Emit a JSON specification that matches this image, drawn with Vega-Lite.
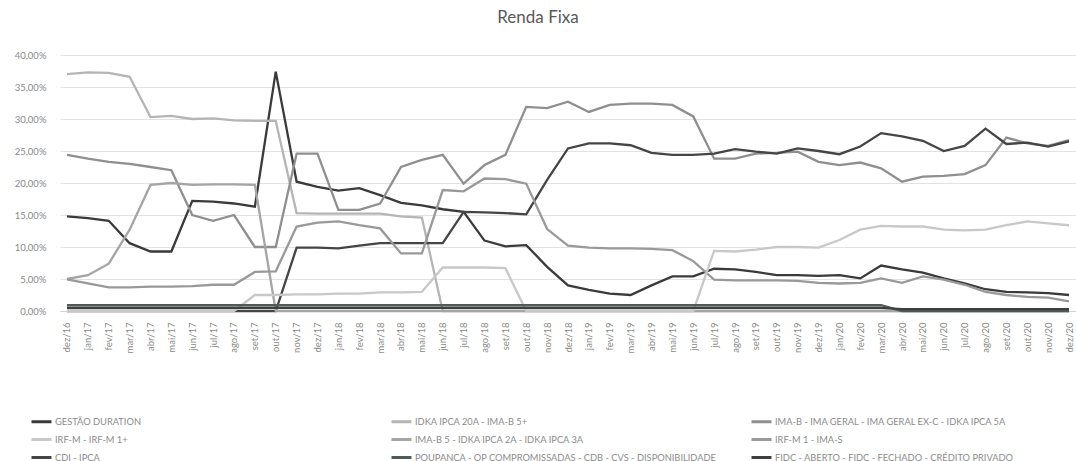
{
  "$schema": "https://vega.github.io/schema/vega-lite/v6.json",
  "width": 1016,
  "height": 256,
  "autosize": {"type": "none"},
  "padding": {"left": 60, "top": 55, "right": 0, "bottom": 150},
  "background": "white",
  "title": {"text": "Renda Fixa", "fontSize": 17, "font": "Lato", "fontWeight": "normal", "color": "#595959", "anchor": "middle", "frame": "group", "offset": 23, "dx": -30},
  "datasets": {
    "names": [
      {"s": "A", "name": "GESTÃO DURATION"},
      {"s": "B", "name": "IDKA IPCA 20A - IMA-B 5+"},
      {"s": "C", "name": "IMA-B - IMA GERAL - IMA GERAL EX-C - IDKA IPCA 5A"},
      {"s": "G", "name": "IRF-M - IRF-M 1+"},
      {"s": "E", "name": "IMA-B 5 - IDKA IPCA 2A - IDKA IPCA 3A"},
      {"s": "F", "name": "IRF-M 1 - IMA-S"},
      {"s": "D", "name": "CDI - IPCA"},
      {"s": "P", "name": "POUPANÇA - OP COMPROMISSADAS - CDB - CVS - DISPONIBILIDADE"},
      {"s": "H", "name": "FIDC - ABERTO - FIDC - FECHADO - CRÉDITO PRIVADO"}
    ]
  },
  "data": {"values": [
{"m":"dez/16","s":"A","v":14.8},{"m":"jan/17","s":"A","v":14.5},{"m":"fev/17","s":"A","v":14.1},{"m":"mar/17","s":"A","v":10.6},{"m":"abr/17","s":"A","v":9.3},{"m":"mai/17","s":"A","v":9.3},{"m":"jun/17","s":"A","v":17.2},{"m":"jul/17","s":"A","v":17.1},{"m":"ago/17","s":"A","v":16.8},{"m":"set/17","s":"A","v":16.3},{"m":"out/17","s":"A","v":37.4},{"m":"nov/17","s":"A","v":20.2},{"m":"dez/17","s":"A","v":19.4},{"m":"jan/18","s":"A","v":18.8},{"m":"fev/18","s":"A","v":19.2},{"m":"mar/18","s":"A","v":18.1},{"m":"abr/18","s":"A","v":16.9},{"m":"mai/18","s":"A","v":16.5},{"m":"jun/18","s":"A","v":15.9},{"m":"jul/18","s":"A","v":15.5},{"m":"ago/18","s":"A","v":11.0},{"m":"set/18","s":"A","v":10.1},{"m":"out/18","s":"A","v":10.3},{"m":"nov/18","s":"A","v":6.9},{"m":"dez/18","s":"A","v":4.0},{"m":"jan/19","s":"A","v":3.3},{"m":"fev/19","s":"A","v":2.7},{"m":"mar/19","s":"A","v":2.5},{"m":"abr/19","s":"A","v":4.0},{"m":"mai/19","s":"A","v":5.4},{"m":"jun/19","s":"A","v":5.4},{"m":"jul/19","s":"A","v":6.6},{"m":"ago/19","s":"A","v":6.5},{"m":"set/19","s":"A","v":6.1},{"m":"out/19","s":"A","v":5.6},{"m":"nov/19","s":"A","v":5.6},{"m":"dez/19","s":"A","v":5.5},{"m":"jan/20","s":"A","v":5.6},{"m":"fev/20","s":"A","v":5.1},{"m":"mar/20","s":"A","v":7.1},{"m":"abr/20","s":"A","v":6.5},{"m":"mai/20","s":"A","v":6.0},{"m":"jun/20","s":"A","v":5.1},{"m":"jul/20","s":"A","v":4.3},{"m":"ago/20","s":"A","v":3.4},{"m":"set/20","s":"A","v":3.0},{"m":"out/20","s":"A","v":2.9},{"m":"nov/20","s":"A","v":2.8},{"m":"dez/20","s":"A","v":2.5},
{"m":"dez/16","s":"B","v":37.0},{"m":"jan/17","s":"B","v":37.3},{"m":"fev/17","s":"B","v":37.2},{"m":"mar/17","s":"B","v":36.6},{"m":"abr/17","s":"B","v":30.3},{"m":"mai/17","s":"B","v":30.5},{"m":"jun/17","s":"B","v":30.0},{"m":"jul/17","s":"B","v":30.1},{"m":"ago/17","s":"B","v":29.8},{"m":"set/17","s":"B","v":29.7},{"m":"out/17","s":"B","v":29.7},{"m":"nov/17","s":"B","v":15.3},{"m":"dez/17","s":"B","v":15.2},{"m":"jan/18","s":"B","v":15.2},{"m":"fev/18","s":"B","v":15.2},{"m":"mar/18","s":"B","v":15.2},{"m":"abr/18","s":"B","v":14.8},{"m":"mai/18","s":"B","v":14.6},{"m":"jun/18","s":"B","v":0},{"m":"jul/18","s":"B","v":0},{"m":"ago/18","s":"B","v":0},{"m":"set/18","s":"B","v":0},{"m":"out/18","s":"B","v":0},{"m":"nov/18","s":"B","v":0},{"m":"dez/18","s":"B","v":0},{"m":"jan/19","s":"B","v":0},{"m":"fev/19","s":"B","v":0},{"m":"mar/19","s":"B","v":0},{"m":"abr/19","s":"B","v":0},{"m":"mai/19","s":"B","v":0},{"m":"jun/19","s":"B","v":0},{"m":"jul/19","s":"B","v":0},{"m":"ago/19","s":"B","v":0},{"m":"set/19","s":"B","v":0},{"m":"out/19","s":"B","v":0},{"m":"nov/19","s":"B","v":0},{"m":"dez/19","s":"B","v":0},{"m":"jan/20","s":"B","v":0},{"m":"fev/20","s":"B","v":0},{"m":"mar/20","s":"B","v":0},{"m":"abr/20","s":"B","v":0},{"m":"mai/20","s":"B","v":0},{"m":"jun/20","s":"B","v":0},{"m":"jul/20","s":"B","v":0},{"m":"ago/20","s":"B","v":0},{"m":"set/20","s":"B","v":0},{"m":"out/20","s":"B","v":0},{"m":"nov/20","s":"B","v":0},{"m":"dez/20","s":"B","v":0},
{"m":"dez/16","s":"C","v":24.4},{"m":"jan/17","s":"C","v":23.8},{"m":"fev/17","s":"C","v":23.3},{"m":"mar/17","s":"C","v":23.0},{"m":"abr/17","s":"C","v":22.5},{"m":"mai/17","s":"C","v":22.0},{"m":"jun/17","s":"C","v":15.0},{"m":"jul/17","s":"C","v":14.1},{"m":"ago/17","s":"C","v":15.0},{"m":"set/17","s":"C","v":10.0},{"m":"out/17","s":"C","v":10.0},{"m":"nov/17","s":"C","v":24.6},{"m":"dez/17","s":"C","v":24.6},{"m":"jan/18","s":"C","v":15.8},{"m":"fev/18","s":"C","v":15.8},{"m":"mar/18","s":"C","v":16.8},{"m":"abr/18","s":"C","v":22.5},{"m":"mai/18","s":"C","v":23.6},{"m":"jun/18","s":"C","v":24.4},{"m":"jul/18","s":"C","v":19.9},{"m":"ago/18","s":"C","v":22.8},{"m":"set/18","s":"C","v":24.4},{"m":"out/18","s":"C","v":31.9},{"m":"nov/18","s":"C","v":31.7},{"m":"dez/18","s":"C","v":32.7},{"m":"jan/19","s":"C","v":31.1},{"m":"fev/19","s":"C","v":32.2},{"m":"mar/19","s":"C","v":32.4},{"m":"abr/19","s":"C","v":32.4},{"m":"mai/19","s":"C","v":32.2},{"m":"jun/19","s":"C","v":30.4},{"m":"jul/19","s":"C","v":23.8},{"m":"ago/19","s":"C","v":23.8},{"m":"set/19","s":"C","v":24.6},{"m":"out/19","s":"C","v":24.7},{"m":"nov/19","s":"C","v":24.9},{"m":"dez/19","s":"C","v":23.3},{"m":"jan/20","s":"C","v":22.8},{"m":"fev/20","s":"C","v":23.2},{"m":"mar/20","s":"C","v":22.3},{"m":"abr/20","s":"C","v":20.2},{"m":"mai/20","s":"C","v":21.0},{"m":"jun/20","s":"C","v":21.1},{"m":"jul/20","s":"C","v":21.4},{"m":"ago/20","s":"C","v":22.8},{"m":"set/20","s":"C","v":27.1},{"m":"out/20","s":"C","v":26.2},{"m":"nov/20","s":"C","v":25.8},{"m":"dez/20","s":"C","v":26.7},
{"m":"dez/16","s":"D","v":0},{"m":"jan/17","s":"D","v":0},{"m":"fev/17","s":"D","v":0},{"m":"mar/17","s":"D","v":0},{"m":"abr/17","s":"D","v":0},{"m":"mai/17","s":"D","v":0},{"m":"jun/17","s":"D","v":0},{"m":"jul/17","s":"D","v":0},{"m":"ago/17","s":"D","v":0},{"m":"set/17","s":"D","v":0},{"m":"out/17","s":"D","v":0},{"m":"nov/17","s":"D","v":9.9},{"m":"dez/17","s":"D","v":9.9},{"m":"jan/18","s":"D","v":9.8},{"m":"fev/18","s":"D","v":10.2},{"m":"mar/18","s":"D","v":10.6},{"m":"abr/18","s":"D","v":10.6},{"m":"mai/18","s":"D","v":10.6},{"m":"jun/18","s":"D","v":10.6},{"m":"jul/18","s":"D","v":15.5},{"m":"ago/18","s":"D","v":15.4},{"m":"set/18","s":"D","v":15.3},{"m":"out/18","s":"D","v":15.1},{"m":"nov/18","s":"D","v":20.5},{"m":"dez/18","s":"D","v":25.4},{"m":"jan/19","s":"D","v":26.2},{"m":"fev/19","s":"D","v":26.2},{"m":"mar/19","s":"D","v":25.9},{"m":"abr/19","s":"D","v":24.7},{"m":"mai/19","s":"D","v":24.4},{"m":"jun/19","s":"D","v":24.4},{"m":"jul/19","s":"D","v":24.6},{"m":"ago/19","s":"D","v":25.3},{"m":"set/19","s":"D","v":24.9},{"m":"out/19","s":"D","v":24.6},{"m":"nov/19","s":"D","v":25.4},{"m":"dez/19","s":"D","v":25.0},{"m":"jan/20","s":"D","v":24.5},{"m":"fev/20","s":"D","v":25.7},{"m":"mar/20","s":"D","v":27.8},{"m":"abr/20","s":"D","v":27.3},{"m":"mai/20","s":"D","v":26.6},{"m":"jun/20","s":"D","v":25.0},{"m":"jul/20","s":"D","v":25.8},{"m":"ago/20","s":"D","v":28.5},{"m":"set/20","s":"D","v":26.1},{"m":"out/20","s":"D","v":26.3},{"m":"nov/20","s":"D","v":25.7},{"m":"dez/20","s":"D","v":26.5},
{"m":"dez/16","s":"E","v":5.0},{"m":"jan/17","s":"E","v":5.6},{"m":"fev/17","s":"E","v":7.4},{"m":"mar/17","s":"E","v":12.7},{"m":"abr/17","s":"E","v":19.7},{"m":"mai/17","s":"E","v":20.0},{"m":"jun/17","s":"E","v":19.7},{"m":"jul/17","s":"E","v":19.8},{"m":"ago/17","s":"E","v":19.8},{"m":"set/17","s":"E","v":19.7},{"m":"out/17","s":"E","v":0},{"m":"nov/17","s":"E","v":0},{"m":"dez/17","s":"E","v":0},{"m":"jan/18","s":"E","v":0},{"m":"fev/18","s":"E","v":0},{"m":"mar/18","s":"E","v":0},{"m":"abr/18","s":"E","v":0},{"m":"mai/18","s":"E","v":0},{"m":"jun/18","s":"E","v":0},{"m":"jul/18","s":"E","v":0},{"m":"ago/18","s":"E","v":0},{"m":"set/18","s":"E","v":0},{"m":"out/18","s":"E","v":0},{"m":"nov/18","s":"E","v":0},{"m":"dez/18","s":"E","v":0},{"m":"jan/19","s":"E","v":0},{"m":"fev/19","s":"E","v":0},{"m":"mar/19","s":"E","v":0},{"m":"abr/19","s":"E","v":0},{"m":"mai/19","s":"E","v":0},{"m":"jun/19","s":"E","v":0},{"m":"jul/19","s":"E","v":0},{"m":"ago/19","s":"E","v":0},{"m":"set/19","s":"E","v":0},{"m":"out/19","s":"E","v":0},{"m":"nov/19","s":"E","v":0},{"m":"dez/19","s":"E","v":0},{"m":"jan/20","s":"E","v":0},{"m":"fev/20","s":"E","v":0},{"m":"mar/20","s":"E","v":0},{"m":"abr/20","s":"E","v":0},{"m":"mai/20","s":"E","v":0},{"m":"jun/20","s":"E","v":0},{"m":"jul/20","s":"E","v":0},{"m":"ago/20","s":"E","v":0},{"m":"set/20","s":"E","v":0},{"m":"out/20","s":"E","v":0},{"m":"nov/20","s":"E","v":0},{"m":"dez/20","s":"E","v":0},
{"m":"dez/16","s":"F","v":4.95},{"m":"jan/17","s":"F","v":4.3},{"m":"fev/17","s":"F","v":3.7},{"m":"mar/17","s":"F","v":3.7},{"m":"abr/17","s":"F","v":3.8},{"m":"mai/17","s":"F","v":3.8},{"m":"jun/17","s":"F","v":3.9},{"m":"jul/17","s":"F","v":4.1},{"m":"ago/17","s":"F","v":4.1},{"m":"set/17","s":"F","v":6.1},{"m":"out/17","s":"F","v":6.2},{"m":"nov/17","s":"F","v":13.2},{"m":"dez/17","s":"F","v":13.8},{"m":"jan/18","s":"F","v":14.0},{"m":"fev/18","s":"F","v":13.4},{"m":"mar/18","s":"F","v":12.9},{"m":"abr/18","s":"F","v":9.0},{"m":"mai/18","s":"F","v":9.0},{"m":"jun/18","s":"F","v":18.9},{"m":"jul/18","s":"F","v":18.7},{"m":"ago/18","s":"F","v":20.7},{"m":"set/18","s":"F","v":20.6},{"m":"out/18","s":"F","v":19.9},{"m":"nov/18","s":"F","v":12.8},{"m":"dez/18","s":"F","v":10.2},{"m":"jan/19","s":"F","v":9.9},{"m":"fev/19","s":"F","v":9.8},{"m":"mar/19","s":"F","v":9.8},{"m":"abr/19","s":"F","v":9.7},{"m":"mai/19","s":"F","v":9.5},{"m":"jun/19","s":"F","v":7.8},{"m":"jul/19","s":"F","v":4.9},{"m":"ago/19","s":"F","v":4.8},{"m":"set/19","s":"F","v":4.8},{"m":"out/19","s":"F","v":4.8},{"m":"nov/19","s":"F","v":4.7},{"m":"dez/19","s":"F","v":4.4},{"m":"jan/20","s":"F","v":4.3},{"m":"fev/20","s":"F","v":4.4},{"m":"mar/20","s":"F","v":5.1},{"m":"abr/20","s":"F","v":4.4},{"m":"mai/20","s":"F","v":5.4},{"m":"jun/20","s":"F","v":4.9},{"m":"jul/20","s":"F","v":4.1},{"m":"ago/20","s":"F","v":3.0},{"m":"set/20","s":"F","v":2.5},{"m":"out/20","s":"F","v":2.2},{"m":"nov/20","s":"F","v":2.1},{"m":"dez/20","s":"F","v":1.5},
{"m":"dez/16","s":"G","v":0},{"m":"jan/17","s":"G","v":0},{"m":"fev/17","s":"G","v":0},{"m":"mar/17","s":"G","v":0},{"m":"abr/17","s":"G","v":0},{"m":"mai/17","s":"G","v":0},{"m":"jun/17","s":"G","v":0},{"m":"jul/17","s":"G","v":0},{"m":"ago/17","s":"G","v":0},{"m":"set/17","s":"G","v":2.5},{"m":"out/17","s":"G","v":2.5},{"m":"nov/17","s":"G","v":2.6},{"m":"dez/17","s":"G","v":2.6},{"m":"jan/18","s":"G","v":2.7},{"m":"fev/18","s":"G","v":2.7},{"m":"mar/18","s":"G","v":2.9},{"m":"abr/18","s":"G","v":2.9},{"m":"mai/18","s":"G","v":3.0},{"m":"jun/18","s":"G","v":6.8},{"m":"jul/18","s":"G","v":6.8},{"m":"ago/18","s":"G","v":6.8},{"m":"set/18","s":"G","v":6.7},{"m":"out/18","s":"G","v":0},{"m":"nov/18","s":"G","v":0},{"m":"dez/18","s":"G","v":0},{"m":"jan/19","s":"G","v":0},{"m":"fev/19","s":"G","v":0},{"m":"mar/19","s":"G","v":0},{"m":"abr/19","s":"G","v":0},{"m":"mai/19","s":"G","v":0},{"m":"jun/19","s":"G","v":0},{"m":"jul/19","s":"G","v":9.4},{"m":"ago/19","s":"G","v":9.3},{"m":"set/19","s":"G","v":9.6},{"m":"out/19","s":"G","v":10.0},{"m":"nov/19","s":"G","v":10.0},{"m":"dez/19","s":"G","v":9.9},{"m":"jan/20","s":"G","v":11.1},{"m":"fev/20","s":"G","v":12.7},{"m":"mar/20","s":"G","v":13.3},{"m":"abr/20","s":"G","v":13.2},{"m":"mai/20","s":"G","v":13.2},{"m":"jun/20","s":"G","v":12.7},{"m":"jul/20","s":"G","v":12.6},{"m":"ago/20","s":"G","v":12.7},{"m":"set/20","s":"G","v":13.4},{"m":"out/20","s":"G","v":14.0},{"m":"nov/20","s":"G","v":13.7},{"m":"dez/20","s":"G","v":13.4},
{"m":"dez/16","s":"P","v":0.9},{"m":"jan/17","s":"P","v":0.9},{"m":"fev/17","s":"P","v":0.9},{"m":"mar/17","s":"P","v":0.9},{"m":"abr/17","s":"P","v":0.9},{"m":"mai/17","s":"P","v":0.9},{"m":"jun/17","s":"P","v":0.9},{"m":"jul/17","s":"P","v":0.9},{"m":"ago/17","s":"P","v":0.9},{"m":"set/17","s":"P","v":0.9},{"m":"out/17","s":"P","v":0.9},{"m":"nov/17","s":"P","v":0.9},{"m":"dez/17","s":"P","v":0.9},{"m":"jan/18","s":"P","v":0.9},{"m":"fev/18","s":"P","v":0.9},{"m":"mar/18","s":"P","v":0.9},{"m":"abr/18","s":"P","v":0.9},{"m":"mai/18","s":"P","v":0.9},{"m":"jun/18","s":"P","v":0.9},{"m":"jul/18","s":"P","v":0.9},{"m":"ago/18","s":"P","v":0.9},{"m":"set/18","s":"P","v":0.9},{"m":"out/18","s":"P","v":0.9},{"m":"nov/18","s":"P","v":0.9},{"m":"dez/18","s":"P","v":0.9},{"m":"jan/19","s":"P","v":0.9},{"m":"fev/19","s":"P","v":0.9},{"m":"mar/19","s":"P","v":0.9},{"m":"abr/19","s":"P","v":0.9},{"m":"mai/19","s":"P","v":0.9},{"m":"jun/19","s":"P","v":0.9},{"m":"jul/19","s":"P","v":0.9},{"m":"ago/19","s":"P","v":0.9},{"m":"set/19","s":"P","v":0.9},{"m":"out/19","s":"P","v":0.9},{"m":"nov/19","s":"P","v":0.9},{"m":"dez/19","s":"P","v":0.9},{"m":"jan/20","s":"P","v":0.9},{"m":"fev/20","s":"P","v":0.9},{"m":"mar/20","s":"P","v":0.9},{"m":"abr/20","s":"P","v":0},{"m":"mai/20","s":"P","v":0},{"m":"jun/20","s":"P","v":0},{"m":"jul/20","s":"P","v":0},{"m":"ago/20","s":"P","v":0},{"m":"set/20","s":"P","v":0},{"m":"out/20","s":"P","v":0},{"m":"nov/20","s":"P","v":0},{"m":"dez/20","s":"P","v":0},
{"m":"dez/16","s":"H","v":0.5},{"m":"jan/17","s":"H","v":0.5},{"m":"fev/17","s":"H","v":0.5},{"m":"mar/17","s":"H","v":0.5},{"m":"abr/17","s":"H","v":0.5},{"m":"mai/17","s":"H","v":0.5},{"m":"jun/17","s":"H","v":0.5},{"m":"jul/17","s":"H","v":0.5},{"m":"ago/17","s":"H","v":0.5},{"m":"set/17","s":"H","v":0.5},{"m":"out/17","s":"H","v":0.5},{"m":"nov/17","s":"H","v":0.5},{"m":"dez/17","s":"H","v":0.5},{"m":"jan/18","s":"H","v":0.5},{"m":"fev/18","s":"H","v":0.5},{"m":"mar/18","s":"H","v":0.5},{"m":"abr/18","s":"H","v":0.5},{"m":"mai/18","s":"H","v":0.5},{"m":"jun/18","s":"H","v":0.5},{"m":"jul/18","s":"H","v":0.5},{"m":"ago/18","s":"H","v":0.5},{"m":"set/18","s":"H","v":0.5},{"m":"out/18","s":"H","v":0.5},{"m":"nov/18","s":"H","v":0.5},{"m":"dez/18","s":"H","v":0.5},{"m":"jan/19","s":"H","v":0.5},{"m":"fev/19","s":"H","v":0.5},{"m":"mar/19","s":"H","v":0.5},{"m":"abr/19","s":"H","v":0.5},{"m":"mai/19","s":"H","v":0.5},{"m":"jun/19","s":"H","v":0.5},{"m":"jul/19","s":"H","v":0.5},{"m":"ago/19","s":"H","v":0.5},{"m":"set/19","s":"H","v":0.5},{"m":"out/19","s":"H","v":0.5},{"m":"nov/19","s":"H","v":0.5},{"m":"dez/19","s":"H","v":0.5},{"m":"jan/20","s":"H","v":0.5},{"m":"fev/20","s":"H","v":0.5},{"m":"mar/20","s":"H","v":0.5},{"m":"abr/20","s":"H","v":0.3},{"m":"mai/20","s":"H","v":0.3},{"m":"jun/20","s":"H","v":0.3},{"m":"jul/20","s":"H","v":0.3},{"m":"ago/20","s":"H","v":0.3},{"m":"set/20","s":"H","v":0.3},{"m":"out/20","s":"H","v":0.3},{"m":"nov/20","s":"H","v":0.3},{"m":"dez/20","s":"H","v":0.3}
  ]},
  "transform": [
    {"lookup": "s", "from": {"data": {"name": "names"}, "key": "s", "fields": ["name"]}}
  ],
  "mark": {"type": "line", "strokeWidth": 2.3},
  "encoding": {
    "x": {
      "field": "m", "type": "ordinal", "sort": null,
      "scale": {"type": "point", "padding": 0.3353},
      "axis": {"title": null, "labelAngle": -90, "labelFontSize": 9.5, "labelFont": "Lato", "labelColor": "#8a8a8a", "ticks": false, "domain": true, "domainColor": "#d0d0d0", "labelPadding": 11, "grid": false}
    },
    "y": {
      "field": "v", "type": "quantitative",
      "scale": {"domain": [0, 40], "nice": false},
      "axis": {"title": null, "values": [0, 5, 10, 15, 20, 25, 30, 35, 40], "labelExpr": "replace(format(datum.value, '.2f'), '.', ',') + '%'", "labelFontSize": 9.5, "labelFont": "Lato", "labelColor": "#8a8a8a", "grid": true, "gridColor": "#e2e2e2", "domain": false, "ticks": false, "labelPadding": 14}
    },
    "color": {
      "field": "name", "type": "nominal",
      "scale": {
        "domain": ["GESTÃO DURATION", "IRF-M - IRF-M 1+", "CDI - IPCA", "IDKA IPCA 20A - IMA-B 5+", "IMA-B 5 - IDKA IPCA 2A - IDKA IPCA 3A", "POUPANÇA - OP COMPROMISSADAS - CDB - CVS - DISPONIBILIDADE", "IMA-B - IMA GERAL - IMA GERAL EX-C - IDKA IPCA 5A", "IRF-M 1 - IMA-S", "FIDC - ABERTO - FIDC - FECHADO - CRÉDITO PRIVADO"],
        "range": ["#3a3a3a", "#c8c8c8", "#454545", "#b5b5b5", "#a5a5a5", "#515b56", "#8f8f8f", "#999999", "#3f3f3f"]
      },
      "legend": {
        "title": null, "orient": "none", "legendX": -30, "legendY": 355,
        "columns": 3, "gridAlign": "all", "columnPadding": 28, "rowPadding": -7,
        "symbolType": "stroke", "symbolStrokeWidth": 3, "symbolSize": 400,
        "labelFontSize": 9.3, "labelFont": "Lato", "labelColor": "#8c8c8c", "labelLimit": 420, "labelOffset": 2
      }
    }
  },
  "config": {"view": {"stroke": null}}
}
